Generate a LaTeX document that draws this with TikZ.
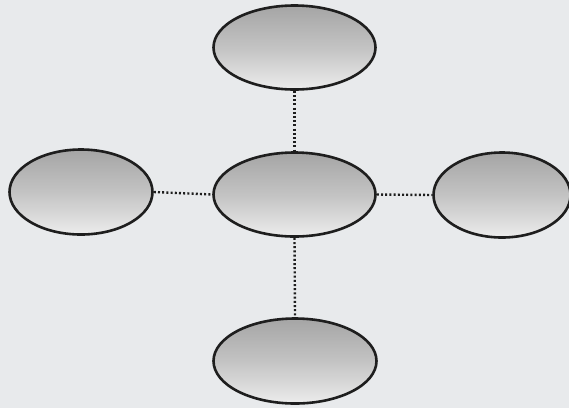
\documentclass[tikz,border=0pt]{standalone}
\usetikzlibrary{shapes.geometric}
\definecolor{bg}{RGB}{232,234,236}
\definecolor{topg}{RGB}{165,165,165}
\definecolor{botg}{RGB}{236,236,236}
\definecolor{edge}{RGB}{30,30,30}
\tikzset{
  oval/.style={ellipse, draw=edge, line width=2.6pt, inner sep=0pt,
    top color=topg, bottom color=botg, middle color={rgb,255:red,195;green,195;blue,195}},
  link/.style={draw=edge, line width=2.4pt, dash pattern=on 2pt off 2.2pt}
}
\begin{document}
\begin{tikzpicture}[x=1pt,y=-1pt]
\fill[bg] (0,0) rectangle (569,408);
\useasboundingbox (0,0) rectangle (569,408);
\node[oval, minimum width=162pt, minimum height=84pt] (c) at (294.5,194.5) {};
\node[oval, minimum width=162pt, minimum height=84pt] (t) at (294.5,47.5) {};
\node[oval, minimum width=163pt, minimum height=85pt] (b) at (295,361) {};
\node[oval, minimum width=143pt, minimum height=85pt] (l) at (81,192) {};
\node[oval, minimum width=137pt, minimum height=85pt] (r) at (502,195) {};
\path[link] (t.south) -- (c.north);
\path[link] (c.south) -- (b.north);
\path[link] (l.east) -- (c.west);
\path[link] (c.east) -- (r.west);
\end{tikzpicture}
\end{document}
